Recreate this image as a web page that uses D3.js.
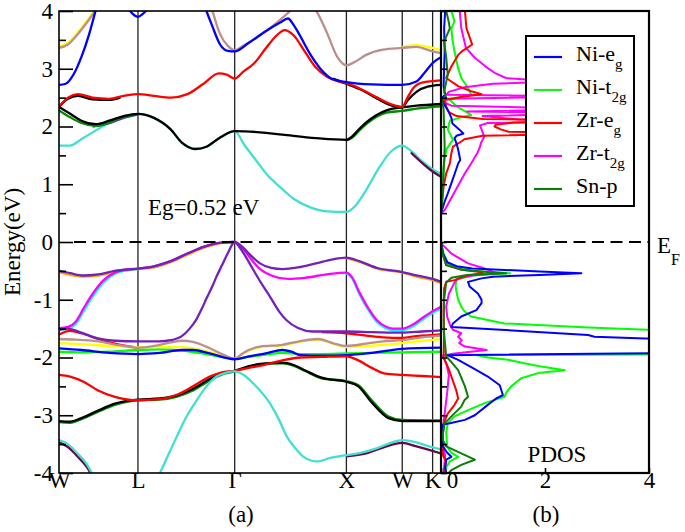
<!DOCTYPE html>
<html><head><meta charset="utf-8">
<script src="https://cdn.jsdelivr.net/npm/d3@7"></script>
<style>body{margin:0;background:#fff} text, tspan {font-family:"Liberation Serif" !important;}</style>
</head><body><svg id="c" width="685" height="532" font-family="Liberation Serif"></svg>
<script>
// ---------------- DATA ----------------
const kTicks = [0, 0.707, 1.573, 2.573, 3.073, 3.345];
const kLabels = ["W", "L", "Γ", "X", "W", "K"];
const kMax = 3.42;
const eTicks = [-4, -3, -2, -1, 0, 1, 2, 3, 4];
const eMinor = [-3.5, -2.5, -1.5, -0.5, 0.5, 1.5, 2.5, 3.5];
const dosTicks = [0, 2, 4];
const dosTickLabels = ["0", "2", "4"];
const gapLabel = "Eg=0.52 eV";

// band energies [k, E(eV)]
const cbTurq = [[0,1.67],[0.1,1.67],[0.2,1.78],[0.37,1.98],[0.55,2.15],[0.707,2.22],[0.85,2.15],[1.0,1.95],[1.1,1.72],[1.22,1.61],[1.32,1.65],[1.45,1.82],[1.573,1.92],[1.66,1.68],[1.75,1.45],[1.87,1.15],[1.98,0.95],[2.1,0.75],[2.25,0.6],[2.4,0.53],[2.573,0.52],[2.65,0.62],[2.75,0.9],[2.87,1.3],[2.98,1.58],[3.073,1.67],[3.15,1.58],[3.25,1.40],[3.345,1.26],[3.42,1.18]];
const cbMaroonK = [[3.15,1.55],[3.25,1.37],[3.345,1.22],[3.42,1.13]];
const cbBlack = [[0,2.34],[0.1,2.22],[0.2,2.1],[0.33,2.04],[0.45,2.1],[0.58,2.18],[0.707,2.22],[0.85,2.15],[1.0,1.95],[1.1,1.72],[1.22,1.61],[1.32,1.65],[1.45,1.82],[1.573,1.92],[1.8,1.9],[2.0,1.86],[2.3,1.8],[2.573,1.77],[2.62,1.82],[2.694,1.97],[2.77,2.1],[2.844,2.2],[2.933,2.28],[3.073,2.33],[3.2,2.36],[3.42,2.39]];
const cbDkGreenWL = [[0,2.28],[0.1,2.16],[0.2,2.06],[0.33,2.01],[0.45,2.07],[0.58,2.16],[0.707,2.21]];
const cbDkGreenXK = [[2.573,1.76],[2.62,1.8],[2.694,1.94],[2.77,2.07],[2.844,2.17],[2.933,2.24],[3.073,2.27],[3.2,2.31],[3.42,2.35]];
const cbPurpleWL = [[0.3,2.0],[0.45,2.06],[0.58,2.15],[0.707,2.21]];
const cbRed = [[0,2.34],[0.08,2.5],[0.17,2.56],[0.3,2.5],[0.45,2.48],[0.58,2.53],[0.707,2.56],[0.85,2.53],[1.0,2.5],[1.15,2.56],[1.3,2.75],[1.43,2.92],[1.5,2.9],[1.573,2.83],[1.65,2.95],[1.75,3.1],[1.85,3.35],[1.95,3.58],[2.02,3.67],[2.1,3.58],[2.2,3.3],[2.3,3.02],[2.4,2.86],[2.5,2.78],[2.573,2.75],[2.7,2.65],[2.85,2.5],[2.98,2.38],[3.073,2.34],[3.12,2.5],[3.17,2.66],[3.25,2.76],[3.42,2.8]];
const cbBlackUpWL = [[0,2.34],[0.08,2.48],[0.17,2.53],[0.3,2.47],[0.45,2.46],[0.55,2.5]];
const cbBlackUpXK = [[2.45,2.83],[2.573,2.74],[2.7,2.64],[2.85,2.48],[2.98,2.36],[3.073,2.33],[3.12,2.45],[3.2,2.6],[3.3,2.69],[3.42,2.72]];
const cbBlueW = [[0,2.72],[0.06,2.74],[0.13,2.9],[0.2,3.2],[0.27,3.6],[0.34,4.1]];
const cbBlueL = [[0.6,4.1],[0.66,3.95],[0.707,3.9],[0.75,3.95],[0.82,4.1]];
const cbBlueGK = [[1.3,4.1],[1.37,3.75],[1.442,3.42],[1.51,3.31],[1.573,3.3],[1.7,3.45],[1.85,3.65],[1.98,3.8],[2.05,3.87],[2.1,3.76],[2.15,3.6],[2.25,3.25],[2.35,2.98],[2.45,2.82],[2.573,2.77],[2.8,2.73],[3.073,2.72],[3.2,2.78],[3.28,2.95],[3.345,3.1],[3.42,3.2]];
const cbYellowW = [[0,3.39],[0.08,3.45],[0.16,3.61],[0.25,3.83],[0.35,4.1]];
const cbYellowK = [[3.073,3.38],[3.2,3.41],[3.345,3.36],[3.42,3.32]];
const cbBrownW = [[0,3.36],[0.08,3.42],[0.16,3.58],[0.25,3.8],[0.36,4.1]];
const cbBrownG = [[1.36,4.1],[1.442,3.6],[1.51,3.4],[1.573,3.32],[1.65,3.4],[1.74,3.5],[1.83,3.62],[1.92,3.75],[2.0,3.88],[2.08,4.02],[2.12,4.1]];
const cbBrownXK = [[2.27,4.1],[2.31,3.98],[2.4,3.62],[2.49,3.21],[2.573,3.06],[2.65,3.12],[2.75,3.24],[2.9,3.33],[3.073,3.36],[3.2,3.38],[3.345,3.3],[3.42,3.27]];

const vbOrangeWG = [[0,-0.52],[0.1,-0.57],[0.22,-0.6],[0.35,-0.58],[0.5,-0.52],[0.707,-0.47],[0.85,-0.44],[1.0,-0.35],[1.15,-0.22],[1.3,-0.1],[1.45,-0.02],[1.573,0]];
const vbOrangeXK = [[2.573,-0.28],[2.7,-0.35],[2.85,-0.46],[3.073,-0.53],[3.2,-0.6],[3.345,-0.66],[3.42,-0.71]];
const vbCyanW = [[0,-1.52],[0.08,-1.5],[0.15,-1.42],[0.22,-1.2],[0.3,-0.95],[0.4,-0.7],[0.5,-0.55],[0.6,-0.49],[0.707,-0.47]];
const vbMagentaW = [[0,-1.49],[0.08,-1.47],[0.15,-1.38],[0.22,-1.15],[0.3,-0.9],[0.4,-0.66],[0.5,-0.53],[0.6,-0.48],[0.707,-0.46],[0.85,-0.42],[1.0,-0.33],[1.15,-0.2],[1.3,-0.08],[1.45,-0.01],[1.573,0]];
const vbCyanXK = [[2.573,-0.54],[2.62,-0.62],[2.694,-0.92],[2.77,-1.18],[2.844,-1.38],[2.92,-1.49],[2.99,-1.53],[3.073,-1.53],[3.17,-1.46],[3.25,-1.35],[3.345,-1.23],[3.42,-1.15]];
const vbMagentaGK = [[1.573,0],[1.6,-0.03],[1.65,-0.12],[1.72,-0.3],[1.8,-0.47],[1.9,-0.58],[2.05,-0.64],[2.2,-0.62],[2.4,-0.56],[2.573,-0.53],[2.62,-0.6],[2.694,-0.89],[2.77,-1.15],[2.844,-1.35],[2.92,-1.46],[2.99,-1.5],[3.073,-1.5],[3.17,-1.43],[3.25,-1.32],[3.345,-1.2],[3.42,-1.12]];
const vbPurpleTop = [[0,-0.5],[0.1,-0.54],[0.22,-0.58],[0.35,-0.56],[0.5,-0.5],[0.707,-0.46],[0.85,-0.42],[1.0,-0.33],[1.15,-0.2],[1.3,-0.08],[1.45,-0.01],[1.573,0],[1.6,-0.02],[1.64,-0.08],[1.7,-0.2],[1.8,-0.37],[1.9,-0.45],[2.0,-0.47],[2.14,-0.44],[2.3,-0.37],[2.45,-0.3],[2.573,-0.27],[2.7,-0.34],[2.85,-0.45],[3.073,-0.52],[3.2,-0.58],[3.345,-0.64],[3.42,-0.69]];
const vbPurpleDeep = [[0,-1.52],[0.08,-1.5],[0.2,-1.57],[0.35,-1.67],[0.5,-1.71],[0.707,-1.72],[0.9,-1.72],[1.0,-1.7],[1.1,-1.63],[1.17,-1.5],[1.233,-1.33],[1.28,-1.15],[1.32,-0.98],[1.37,-0.78],[1.41,-0.6],[1.46,-0.4],[1.51,-0.2],[1.573,0],[1.62,-0.1],[1.67,-0.25],[1.73,-0.45],[1.8,-0.68],[1.89,-0.95],[1.97,-1.2],[2.04,-1.36],[2.14,-1.49],[2.27,-1.55],[2.573,-1.55],[2.8,-1.56],[3.073,-1.57],[3.25,-1.55],[3.42,-1.53]];
const vbRedMidW = [[0,-1.6],[0.1,-1.54],[0.2,-1.58],[0.35,-1.68],[0.5,-1.76],[0.707,-1.83]];
const vbRedMidXK = [[2.35,-1.56],[2.573,-1.58],[2.75,-1.62],[2.9,-1.65],[3.073,-1.66],[3.2,-1.63],[3.42,-1.6]];
const vbYellow = [[0,-1.75],[0.2,-1.77],[0.45,-1.8],[0.707,-1.82],[0.9,-1.82],[1.1,-1.82],[1.25,-1.86],[1.4,-1.93],[1.573,-2.02],[1.65,-1.93],[1.8,-1.82],[2.0,-1.79],[2.15,-1.73],[2.32,-1.69],[2.45,-1.76],[2.573,-1.82],[2.75,-1.8],[2.9,-1.78],[3.073,-1.75],[3.25,-1.71],[3.42,-1.68]];
const vbBrown = [[0,-1.68],[0.15,-1.69],[0.35,-1.72],[0.55,-1.79],[0.707,-1.83],[0.85,-1.8],[1.0,-1.74],[1.1,-1.71],[1.2,-1.73],[1.35,-1.84],[1.47,-1.95],[1.573,-2.02],[1.65,-1.92],[1.8,-1.81],[2.0,-1.78],[2.15,-1.72],[2.32,-1.68],[2.45,-1.75],[2.573,-1.8],[2.75,-1.76],[2.9,-1.72],[3.073,-1.7],[3.25,-1.65],[3.42,-1.62]];
const vbGreen = [[0,-1.9],[0.2,-1.91],[0.45,-1.9],[0.707,-1.87],[0.9,-1.86],[1.1,-1.88],[1.25,-1.92],[1.4,-1.97],[1.573,-2.02],[1.7,-1.99],[1.85,-1.95],[2.0,-1.92],[2.16,-1.94],[2.35,-1.94],[2.573,-1.93],[2.8,-1.92],[3.073,-1.91],[3.42,-1.9]];
const vbBlue = [[0,-1.84],[0.2,-1.87],[0.45,-1.92],[0.707,-1.94],[0.9,-1.92],[1.1,-1.87],[1.2,-1.87],[1.35,-1.93],[1.573,-2.03],[1.7,-1.98],[1.85,-1.93],[2.0,-1.87],[2.08,-1.9],[2.16,-1.96],[2.35,-1.97],[2.573,-1.96],[2.8,-1.92],[3.073,-1.85],[3.42,-1.83]];
const vbDkGreenLow = [[0,-3.12],[0.1,-3.13],[0.2,-3.07],[0.35,-2.94],[0.5,-2.82],[0.707,-2.74],[0.9,-2.73],[1.05,-2.68],[1.2,-2.57],[1.35,-2.4],[1.45,-2.3],[1.573,-2.24],[1.7,-2.16],[1.85,-2.11],[2.0,-2.1],[2.1,-2.14],[2.2,-2.23],[2.35,-2.36],[2.573,-2.41],[2.68,-2.48],[2.8,-2.74],[2.95,-3.02],[3.073,-3.08],[3.42,-3.09]];
const vbBlackLow = [[0,-3.1],[0.1,-3.11],[0.2,-3.05],[0.35,-2.92],[0.5,-2.8],[0.707,-2.73],[0.9,-2.71],[1.05,-2.66],[1.2,-2.54],[1.35,-2.37],[1.45,-2.28],[1.573,-2.23],[1.7,-2.15],[1.85,-2.1],[2.0,-2.09],[2.1,-2.13],[2.2,-2.22],[2.35,-2.35],[2.573,-2.42],[2.68,-2.5],[2.8,-2.78],[2.95,-3.05],[3.073,-3.1],[3.42,-3.1]];
const vbRedLow = [[0,-2.3],[0.1,-2.33],[0.22,-2.42],[0.35,-2.57],[0.5,-2.68],[0.707,-2.74],[0.9,-2.72],[1.05,-2.65],[1.2,-2.5],[1.35,-2.33],[1.45,-2.26],[1.573,-2.23],[1.7,-2.18],[1.83,-2.13],[2.0,-2.05],[2.16,-2.0],[2.35,-1.99],[2.573,-1.98],[2.68,-2.05],[2.8,-2.18],[2.92,-2.28],[3.073,-2.3],[3.25,-2.32],[3.42,-2.34]];
const vbMaroonW = [[0,-3.47],[0.08,-3.55],[0.16,-3.7],[0.25,-3.9],[0.31,-4.1]];
const vbMaroonXK = [[2.573,-3.71],[2.75,-3.66],[2.9,-3.56],[3.073,-3.48],[3.2,-3.54],[3.42,-3.66]];
const vbTurqW = [[0,-3.43],[0.08,-3.5],[0.16,-3.65],[0.25,-3.85],[0.32,-4.1]];
const vbTurqLK = [[0.88,-4.1],[0.904,-4.0],[0.98,-3.68],[1.054,-3.37],[1.14,-3.03],[1.233,-2.74],[1.32,-2.5],[1.41,-2.33],[1.5,-2.26],[1.573,-2.24],[1.65,-2.3],[1.74,-2.45],[1.89,-2.8],[1.97,-3.08],[2.04,-3.37],[2.12,-3.58],[2.19,-3.72],[2.31,-3.8],[2.43,-3.74],[2.573,-3.69],[2.7,-3.65],[2.85,-3.57],[2.95,-3.49],[3.073,-3.43],[3.2,-3.47],[3.3,-3.53],[3.42,-3.59]];

// PDOS [E(eV), states]
const dosNiEg = [[4.0,0.08],[3.7,0.06],[3.3,0.07],[3.0,0.06],[2.7,0.05],[2.55,0.08],[2.5,0.02],[2.4,0.05],[2.25,0.15],[2.15,0.2],[2.05,0.22],[1.95,0.35],[1.88,0.43],[1.84,0.3],[1.8,0.26],[1.7,0.3],[1.6,0.33],[1.42,0.37],[1.36,0.33],[1.2,0.27],[1.02,0.2],[0.84,0.13],[0.7,0.07],[0.58,0.03],[0.5,0],[0,0],[-0.2,0.04],[-0.35,0.12],[-0.42,0.3],[-0.46,0.6],[-0.51,1.9],[-0.54,2.7],[-0.57,1.9],[-0.6,1.0],[-0.63,0.78],[-0.69,0.52],[-0.77,0.55],[-0.89,0.71],[-1.0,0.78],[-1.06,0.78],[-1.18,0.68],[-1.29,0.39],[-1.41,0.23],[-1.47,0.2],[-1.61,2.83],[-1.64,2.95],[-1.67,3.92],[-1.69,6],[-1.91,6],[-1.96,0.12],[-2.04,0.33],[-2.2,0.65],[-2.33,0.9],[-2.48,1.13],[-2.65,1.19],[-2.71,1.06],[-2.82,0.9],[-3.0,0.65],[-3.08,0.46],[-3.14,0.17],[-3.16,0.04],[-3.3,0.02],[-3.54,0.04],[-3.65,0.12],[-3.72,0.2],[-3.77,0.1],[-3.9,0.08],[-4.0,0.1]];
const dosNiT2g = [[4.0,0.2],[3.82,0.26],[3.7,0.2],[3.5,0.22],[3.3,0.26],[3.01,0.33],[2.84,0.39],[2.67,0.52],[2.55,0.58],[2.5,0.3],[2.46,0.17],[2.35,0.3],[2.2,0.58],[2.15,0.35],[2.1,0.17],[1.95,0.13],[1.77,0.23],[1.6,0.1],[1.3,0.05],[1.0,0.03],[0.6,0.01],[0.5,0],[0,0],[-0.2,0.05],[-0.4,0.15],[-0.5,0.6],[-0.54,1.33],[-0.58,0.6],[-0.65,0.3],[-0.75,0.28],[-0.83,0.29],[-1.0,0.33],[-1.12,0.39],[-1.2,0.45],[-1.29,0.58],[-1.35,0.9],[-1.41,1.22],[-1.48,2.83],[-1.52,3.98],[-1.54,6],[-1.94,6],[-1.96,0.7],[-2.0,0.9],[-2.04,1.29],[-2.1,1.6],[-2.15,1.9],[-2.22,2.38],[-2.27,1.87],[-2.36,1.54],[-2.5,1.35],[-2.6,1.26],[-2.68,1.22],[-2.79,0.84],[-2.91,0.52],[-3.02,0.26],[-3.14,0.13],[-3.3,0.1],[-3.55,0.12],[-3.65,0.2],[-3.72,0.33],[-3.8,0.17],[-3.9,0.1],[-4.0,0.08]];
const dosZrEg = [[4.0,0.46],[3.7,0.49],[3.47,0.58],[3.42,0.6],[3.3,0.4],[3.24,0.33],[3.04,0.2],[2.84,0.1],[2.7,0.33],[2.61,0.58],[2.56,0.78],[2.52,0.45],[2.46,0.07],[2.35,0.1],[2.25,0.15],[2.18,0.3],[2.13,0.8],[2.1,3.2],[2.07,1.4],[2.03,1.05],[2.0,1.03],[1.95,1.15],[1.91,1.3],[1.88,3.2],[1.84,0.8],[1.78,0.45],[1.74,0.39],[1.65,0.23],[1.54,0.2],[1.36,0.17],[1.19,0.1],[0.96,0.05],[0.7,0.02],[0.5,0],[0,0],[-0.2,0.03],[-0.4,0.1],[-0.48,0.4],[-0.52,0.75],[-0.54,0.8],[-0.58,0.5],[-0.66,0.26],[-0.69,0.1],[-0.8,0.06],[-1.2,0.05],[-1.6,0.06],[-2.0,0.05],[-2.04,0.07],[-2.2,0.15],[-2.33,0.2],[-2.56,0.29],[-2.71,0.33],[-2.82,0.26],[-2.97,0.13],[-3.1,0.07],[-3.4,0.02],[-3.7,0.04],[-3.8,0.1],[-4.0,0.05]];
const dosZrT2g = [[4.0,0.36],[3.7,0.39],[3.36,0.48],[3.19,0.65],[3.01,0.9],[2.93,1.03],[2.84,1.25],[2.81,1.7],[2.78,2.2],[2.74,1.0],[2.68,0.45],[2.6,0.15],[2.55,0.1],[2.52,3.0],[2.48,0.1],[2.42,0.05],[2.36,0.2],[2.3,3.0],[2.26,0.5],[2.23,3.0],[2.18,0.8],[2.12,1.5],[2.09,3.0],[2.06,0.9],[2.02,0.75],[1.95,0.78],[1.82,0.83],[1.72,0.77],[1.65,0.75],[1.54,0.7],[1.36,0.58],[1.19,0.46],[0.96,0.32],[0.73,0.18],[0.55,0.07],[0.5,0],[0,0],[-0.05,0.03],[-0.2,0.2],[-0.37,0.52],[-0.46,0.84],[-0.54,1.07],[-0.58,0.6],[-0.63,0.33],[-0.7,0.26],[-0.9,0.15],[-1.12,0.1],[-1.3,0.12],[-1.45,0.18],[-1.52,0.23],[-1.58,0.39],[-1.64,0.33],[-1.7,0.4],[-1.75,0.35],[-1.81,0.46],[-1.87,0.88],[-1.93,0.26],[-1.97,0.03],[-2.1,0.1],[-2.3,0.15],[-2.6,0.12],[-2.9,0.08],[-3.1,0.05],[-3.5,0.03],[-3.7,0.08],[-4.0,0.05]];
const dosSnP = [[4.0,0.1],[3.85,0.14],[3.7,0.17],[3.47,0.06],[3.2,0.1],[2.9,0.13],[2.6,0.06],[2.5,0.1],[2.45,0.02],[2.3,0.05],[2.0,0.06],[1.65,0.07],[1.2,0.05],[0.8,0.03],[0.5,0],[0,0],[-0.2,0.03],[-0.4,0.1],[-0.48,0.4],[-0.52,0.9],[-0.54,1.25],[-0.57,0.5],[-0.62,0.2],[-0.7,0.1],[-1.0,0.06],[-1.5,0.05],[-1.98,0.1],[-2.1,0.22],[-2.22,0.33],[-2.5,0.46],[-2.68,0.52],[-2.74,0.45],[-2.85,0.39],[-3.02,0.2],[-3.14,0.07],[-3.4,0.02],[-3.54,0.1],[-3.66,0.39],[-3.77,0.65],[-3.86,0.39],[-3.95,0.2],[-4.0,0.15]];

const legendNames = [["Ni-e","g"],["Ni-t","2g"],["Zr-e","g"],["Zr-t","2g"],["Sn-p",""]];

// ---------------- STYLE ----------------
const C = {black:"#000000", red:"#ff0000", green:"#00ff00", blue:"#0000ff", yellow:"#ffff00",
  brown:"#bc8f8f", violet:"#7221bc", cyan:"#00ffff", magenta:"#ff00ff", orange:"#ffa500",
  maroon:"#670748", turq:"#40e0d0", dkgreen:"#008b00"};
const bandSeries = [
  [cbTurq, C.turq],[cbMaroonK, C.maroon],[cbPurpleWL, C.violet],[cbDkGreenWL, C.dkgreen],[cbDkGreenXK, C.dkgreen],[cbBlack, C.black],
  [cbBlackUpWL, C.black],[cbBlackUpXK, C.black],[cbRed, C.red],
  [cbYellowW, C.yellow],[cbYellowK, C.yellow],[cbBrownW, C.brown],[cbBrownG, C.brown],[cbBrownXK, C.brown],
  [cbBlueW, C.blue],[cbBlueL, C.blue],[cbBlueGK, C.blue],
  [vbOrangeWG, C.orange],[vbOrangeXK, C.orange],[vbCyanW, C.cyan],[vbMagentaW, C.magenta],
  [vbCyanXK, C.cyan],[vbMagentaGK, C.magenta],[vbPurpleTop, C.violet],
  [vbRedMidW, C.red],[vbRedMidXK, C.red],[vbGreen, C.green],[vbYellow, C.yellow],[vbBrown, C.brown],[vbBlue, C.blue],[vbPurpleDeep, C.violet],
  [vbDkGreenLow, C.dkgreen],[vbBlackLow, C.black],[vbRedLow, C.red],
  [vbMaroonW, C.maroon],[vbMaroonXK, C.maroon],[vbTurqW, C.turq],[vbTurqLK, C.turq]
];
const dosSeries = [[dosNiT2g, C.green],[dosZrT2g, C.magenta],[dosZrEg, C.red],[dosNiEg, C.blue],[dosSnP, "#0a7d0a"]];
const legendColors = [C.blue, "#22ee22", C.red, C.magenta, "#0a7d0a"];
const FONT = '"Liberation Serif"';

// ---------------- DRAW ----------------
const svg = d3.select("#c");
svg.append("rect").attr("width",685).attr("height",532).attr("fill","#fff");
const y = d3.scaleLinear().domain([-4,4]).range([473,11]);
const xk = d3.scaleLinear().domain([0,kMax]).range([59,441]);
const xd = d3.scaleLinear().domain([0,4]).range([441,649]);

const defs = svg.append("defs");
defs.append("clipPath").attr("id","clipL").append("rect")
  .attr("x",xk(0)).attr("y",y(4)).attr("width",xk(kMax)-xk(0)).attr("height",y(-4)-y(4));
defs.append("clipPath").attr("id","clipR").append("rect")
  .attr("x",xd(0)).attr("y",y(4)).attr("width",xd(4)-xd(0)).attr("height",y(-4)-y(4));

svg.append("g").selectAll("line").data(kTicks.slice(1)).join("line")
  .attr("x1",d=>xk(d)).attr("x2",d=>xk(d)).attr("y1",y(4)).attr("y2",y(-4))
  .attr("stroke","#222").attr("stroke-width",1.3);

const bandLine = d3.line().x(d=>xk(d[0])).y(d=>y(d[1])).curve(d3.curveMonotoneX);
const gB = svg.append("g").attr("clip-path","url(#clipL)");
bandSeries.forEach(([data,col])=>{
  gB.append("path").attr("d",bandLine(data)).attr("fill","none")
    .attr("stroke",col).attr("stroke-width",2.3).attr("stroke-linejoin","round");
});

const dosLine = d3.line().x(d=>xd(d[1])).y(d=>y(d[0])).curve(d3.curveLinear);
const gD = svg.append("g").attr("clip-path","url(#clipR)");
dosSeries.forEach(([data,col])=>{
  gD.append("path").attr("d",dosLine(data)).attr("fill","none")
    .attr("stroke",col).attr("stroke-width",2).attr("stroke-linejoin","round");
});

svg.append("line").attr("x1",xk(0)+15).attr("x2",xd(4)).attr("y1",y(0)).attr("y2",y(0))
  .attr("stroke","#000").attr("stroke-width",2).attr("stroke-dasharray","12,6.5");

function styleAxis(g, fs){
  g.select(".domain").remove();
  g.attr("font-family","Liberation Serif").attr("font-size",fs);
  g.selectAll("line").attr("stroke","#000").attr("stroke-width",1.6);
  g.selectAll("text").attr("fill","#000");
}
const gy = svg.append("g").attr("transform",`translate(${xk(0)},0)`)
  .call(d3.axisLeft(y).tickValues(eTicks).tickSize(-14).tickPadding(6).tickFormat(d=>String(d)));
styleAxis(gy, 23);
const gym = svg.append("g").attr("transform",`translate(${xk(0)},0)`)
  .call(d3.axisLeft(y).tickValues(eMinor).tickSize(-7).tickFormat(""));
styleAxis(gym, 23);
const gyr = svg.append("g").attr("transform",`translate(${xd(0)},0)`)
  .call(d3.axisLeft(y).tickValues(eTicks.concat(eMinor)).tickSize(-6).tickFormat(""));
styleAxis(gyr, 23);

const gx = svg.append("g").attr("transform",`translate(0,${y(-4)})`)
  .call(d3.axisBottom(xk).tickValues(kTicks).tickSize(0).tickPadding(-1).tickFormat((d,i)=>kLabels[i]));
styleAxis(gx, 23);
const gxd = svg.append("g").attr("transform",`translate(0,${y(-4)})`)
  .call(d3.axisBottom(xd).tickValues(dosTicks).tickSize(-5).tickPadding(-1).tickFormat((d,i)=>dosTickLabels[i]));
styleAxis(gxd, 23);
gxd.selectAll("text").filter(d=>d===0).attr("dx",11);

svg.append("rect").attr("x",xk(0)).attr("y",y(4)).attr("width",xk(kMax)-xk(0)).attr("height",y(-4)-y(4))
  .attr("fill","none").attr("stroke","#000").attr("stroke-width",1.6);
svg.append("rect").attr("x",xd(0)).attr("y",y(4)).attr("width",xd(4)-xd(0)).attr("height",y(-4)-y(4))
  .attr("fill","none").attr("stroke","#000").attr("stroke-width",2.2);

const T = (x,yy,s,fs,anchor)=>svg.append("text").attr("x",x).attr("y",yy)
  .attr("font-size",fs).attr("text-anchor",anchor||"start").attr("fill","#000").text(s);
svg.append("text").attr("transform",`translate(20,${y(0)}) rotate(-90)`).attr("text-anchor","middle")
  .attr("font-size",23).text("Energy(eV)");
T(148, 215, gapLabel, 23);
T(241, 522, "(a)", 23, "middle");
T(546, 522, "(b)", 23, "middle");
T(557, 462, "PDOS", 23, "middle");
const ef = svg.append("text").attr("x",657).attr("y",253).attr("font-size",23);
ef.append("tspan").text("E");
ef.append("tspan").attr("font-size",16).attr("dy",12).text("F");

const lg = svg.append("g");
lg.append("rect").attr("x",526).attr("y",36).attr("width",108).attr("height",170)
  .attr("fill","#fff").attr("stroke","#000").attr("stroke-width",2);
legendNames.forEach((nm,i)=>{
  const ly = 57 + i*33;
  lg.append("line").attr("x1",534).attr("x2",562).attr("y1",ly).attr("y2",ly)
    .attr("stroke",legendColors[i]).attr("stroke-width",2.2);
  const t = lg.append("text").attr("x",576).attr("y",ly+4).attr("font-size",22);
  t.append("tspan").text(nm[0]);
  if(nm[1]) t.append("tspan").attr("font-size",15).attr("dy",8).text(nm[1]);
});

// font for every text element (attribute + inline style + px size)
svg.selectAll("text").each(function(){
  const el = d3.select(this);
  const fs = el.attr("font-size") || (this.parentNode.getAttribute && this.parentNode.getAttribute("font-size")) || 23;
  el.attr("font-family","Liberation Serif").style("font-family",FONT).style("font-size", (+fs) + "px");
});
svg.selectAll("tspan").each(function(){
  const el = d3.select(this);
  el.style("font-family",FONT);
  if (el.attr("font-size")) el.style("font-size", (+el.attr("font-size")) + "px");
});
</script></body></html>
